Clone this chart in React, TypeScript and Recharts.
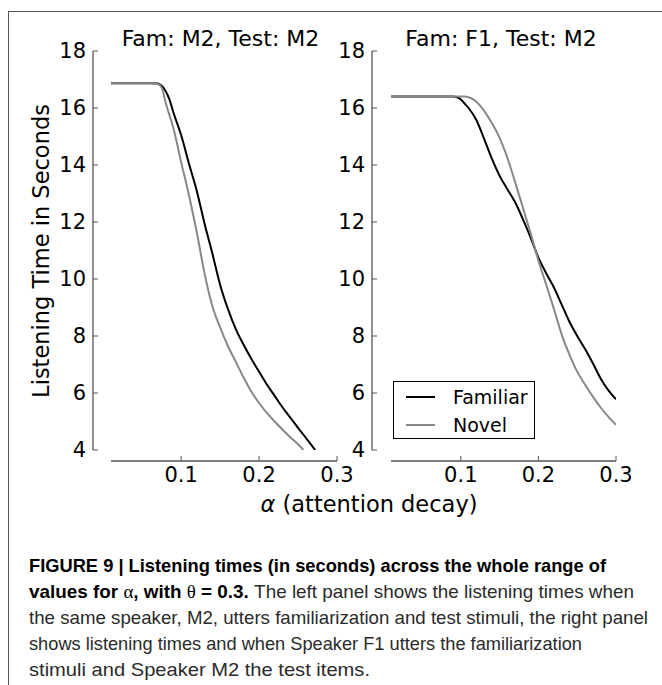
import React from 'react';
import { LineChart, Line, XAxis, YAxis, Legend } from 'recharts';

// ---------- data ----------
const leftFamiliarAlpha = [0.01, 0.02, 0.03, 0.04, 0.05, 0.06, 0.07, 0.075, 0.08, 0.085, 0.09, 0.1, 0.11, 0.12, 0.13, 0.14, 0.15, 0.16, 0.17, 0.18, 0.19, 0.2, 0.21, 0.22, 0.23, 0.24, 0.25, 0.26, 0.27, 0.272];
const leftFamiliarTime = [16.87, 16.87, 16.87, 16.87, 16.87, 16.87, 16.86, 16.78, 16.6, 16.3, 15.85, 15.05, 14.05, 13.1, 11.95, 10.9, 9.8, 8.95, 8.25, 7.7, 7.2, 6.75, 6.3, 5.9, 5.5, 5.14, 4.78, 4.43, 4.07, 4.0];

const leftNovelAlpha = [0.01, 0.02, 0.03, 0.04, 0.05, 0.06, 0.07, 0.075, 0.08, 0.085, 0.09, 0.1, 0.11, 0.12, 0.13, 0.14, 0.15, 0.16, 0.17, 0.18, 0.19, 0.2, 0.21, 0.22, 0.23, 0.24, 0.25, 0.257];
const leftNovelTime = [16.87, 16.87, 16.87, 16.87, 16.87, 16.87, 16.84, 16.72, 16.2, 15.75, 15.3, 14.1, 12.95, 11.65, 10.2, 9.05, 8.3, 7.65, 7.1, 6.55, 6.05, 5.65, 5.3, 5.0, 4.72, 4.45, 4.2, 4.0];

const rightFamiliarAlpha = [0.01, 0.02, 0.03, 0.04, 0.05, 0.06, 0.07, 0.08, 0.09, 0.095, 0.1, 0.105, 0.11, 0.12, 0.13, 0.14, 0.15, 0.16, 0.17, 0.18, 0.19, 0.2, 0.21, 0.22, 0.23, 0.24, 0.25, 0.26, 0.27, 0.28, 0.29, 0.3];
const rightFamiliarTime = [16.4, 16.4, 16.4, 16.4, 16.4, 16.4, 16.4, 16.4, 16.4, 16.38, 16.3, 16.15, 16.0, 15.58, 14.92, 14.22, 13.62, 13.15, 12.69, 12.1, 11.45, 10.75, 10.2, 9.7, 9.1, 8.5, 8.0, 7.55, 7.05, 6.52, 6.1, 5.78];

const rightNovelAlpha = [0.01, 0.02, 0.03, 0.04, 0.05, 0.06, 0.07, 0.08, 0.09, 0.1, 0.105, 0.11, 0.115, 0.12, 0.13, 0.14, 0.15, 0.16, 0.17, 0.18, 0.19, 0.2, 0.21, 0.22, 0.23, 0.24, 0.25, 0.26, 0.27, 0.28, 0.29, 0.3];
const rightNovelTime = [16.4, 16.4, 16.4, 16.4, 16.4, 16.4, 16.4, 16.4, 16.4, 16.4, 16.4, 16.38, 16.32, 16.22, 15.9, 15.47, 14.95, 14.25, 13.4, 12.5, 11.6, 10.65, 9.8, 8.95, 8.05, 7.35, 6.75, 6.3, 5.88, 5.5, 5.17, 4.88];

const yTicks = [4, 6, 8, 10, 12, 14, 16, 18];
const xTicks = [0.1, 0.2, 0.3];
const seriesNames = ['Familiar', 'Novel'];
const panelTitles = ['Fam: M2, Test: M2', 'Fam: F1, Test: M2'];
const yLabel = 'Listening Time in Seconds';
const xLabelRest = ' (attention decay)';

const toRows = (xs: number[], ys: number[]) => xs.map((a, i) => ({ a, t: ys[i] }));

// ---------- style ----------
const FONT = '"DejaVu Sans", sans-serif';
const SPINE = '#555';
const FAM_COLOR = '#000000';
const NOV_COLOR = '#888888';

const LegendBox = (props: any) => {
  const items = props.payload || [];
  return (
    <div style={{ width: 142, height: 58, border: '1px solid #000', boxSizing: 'border-box', position: 'relative', background: '#fff', fontFamily: FONT }}>
      {items.map((it: any, i: number) => (
        <React.Fragment key={i}>
          <div style={{ position: 'absolute', left: 12, top: 14 + i * 28, width: 29, height: 2, background: it.color }} />
          <div style={{ position: 'absolute', left: 59, top: 3 + i * 28, height: 24, lineHeight: '24px', fontSize: 19, color: '#000', whiteSpace: 'nowrap' }}>{it.value}</div>
        </React.Fragment>
      ))}
    </div>
  );
};

type PanelProps = {
  left: number;
  padLeft: number;
  fam: { a: number; t: number }[];
  nov: { a: number; t: number }[];
  legend?: boolean;
};

const Panel = ({ left, padLeft, fam, nov, legend }: PanelProps) => (
  <div style={{ position: 'absolute', left, top: 0 }}>
    <LineChart width={367} height={520} margin={{ top: 51, right: 30, bottom: 0, left: 33 }}>
      <XAxis
        type="number"
        dataKey="a"
        domain={[0.01, 0.3]}
        allowDataOverflow
        ticks={xTicks}
        interval={0}
        padding={{ left: padLeft, right: 0 }}
        height={59}
        axisLine={{ stroke: SPINE, strokeWidth: 1.3, strokeDasharray: `0 ${padLeft} 1000 0` }}
        tickLine={{ stroke: SPINE, strokeWidth: 1 }}
        tickSize={-5}
        tickMargin={11}
        tick={{ fill: '#000', fontSize: 21, fontFamily: FONT }}
      />
      <YAxis
        type="number"
        domain={[4, 18]}
        allowDataOverflow
        ticks={yTicks}
        interval={0}
        width={60}
        padding={{ top: 0, bottom: 11 }}
        axisLine={{ stroke: SPINE, strokeWidth: 1.3, strokeDasharray: '399 100' }}
        tickLine={{ stroke: SPINE, strokeWidth: 1 }}
        tickSize={-5}
        tickMargin={12}
        tick={{ fill: '#000', fontSize: 21, fontFamily: FONT }}
      />
      <Line data={fam} dataKey="t" name={seriesNames[0]} type="monotone" stroke={FAM_COLOR} strokeWidth={2} dot={false} isAnimationActive={false} />
      <Line data={nov} dataKey="t" name={seriesNames[1]} type="monotone" stroke={NOV_COLOR} strokeWidth={2} dot={false} isAnimationActive={false} />
      {legend ? (
        <Legend
          layout="horizontal"
          verticalAlign="middle"
          align="center"
          content={<LegendBox />}
          wrapperStyle={{ position: 'absolute', left: 114, top: 381, width: 142, height: 58 }}
        />
      ) : null}
    </LineChart>
  </div>
);

export default function App() {
  return (
    <div style={{ position: 'absolute', left: 0, top: 0, width: 662, height: 685, overflow: 'hidden', background: '#fff' }}>
      <div style={{ position: 'absolute', left: 8, top: 11, width: 700, height: 700, border: '1.5px solid #555', boxSizing: 'border-box' }} />
      <Panel left={0} padLeft={18} fam={toRows(leftFamiliarAlpha, leftFamiliarTime)} nov={toRows(leftNovelAlpha, leftNovelTime)} />
      <Panel left={279} padLeft={19} fam={toRows(rightFamiliarAlpha, rightFamiliarTime)} nov={toRows(rightNovelAlpha, rightNovelTime)} legend />
      <svg width={662} height={685} style={{ position: 'absolute', left: 0, top: 0, pointerEvents: 'none' }}>
        <text x={220.5} y={46} textAnchor="middle" fontFamily={FONT} fontSize={22} fill="#000">{panelTitles[0]}</text>
        <text x={501} y={46} textAnchor="middle" fontFamily={FONT} fontSize={22} fill="#000">{panelTitles[1]}</text>
        <text x={49} y={251} transform="rotate(-90 49 251)" textAnchor="middle" fontFamily={FONT} fontSize={22.5} fill="#000">{yLabel}</text>
        <text x={369} y={512} textAnchor="middle" fontFamily={FONT} fontSize={22.5} fill="#000">
          <tspan fontStyle="italic">α</tspan>{xLabelRest}
        </text>
        <g fontFamily='"Liberation Sans", Arial, sans-serif' fontSize={19}>
          <text x={29} y={572} textLength={577} lengthAdjust="spacingAndGlyphs" fontWeight="bold" fill="#000">FIGURE 9 | Listening times (in seconds) across the whole range of</text>
          <text x={29} y={598} textLength={605} lengthAdjust="spacingAndGlyphs" fill="#2a2a2a">
            <tspan fontWeight="bold" fill="#000">values for </tspan>
            <tspan fontFamily='"Liberation Serif", serif' fill="#000">α</tspan>
            <tspan fontWeight="bold" fill="#000">, with </tspan>
            <tspan fontFamily='"Liberation Serif", serif' fill="#000">θ</tspan>
            <tspan fontWeight="bold" fill="#000"> = 0.3.</tspan>
            <tspan> The left panel shows the listening times when</tspan>
          </text>
          <text x={29} y={624} textLength={619} lengthAdjust="spacingAndGlyphs" fill="#2a2a2a">the same speaker, M2, utters familiarization and test stimuli, the right panel</text>
          <text x={29} y={650} textLength={553} lengthAdjust="spacingAndGlyphs" fill="#2a2a2a">shows listening times and when Speaker F1 utters the familiarization</text>
          <text x={29} y={676} textLength={341} lengthAdjust="spacingAndGlyphs" fill="#2a2a2a">stimuli and Speaker M2 the test items.</text>
        </g>
      </svg>
    </div>
  );
}
